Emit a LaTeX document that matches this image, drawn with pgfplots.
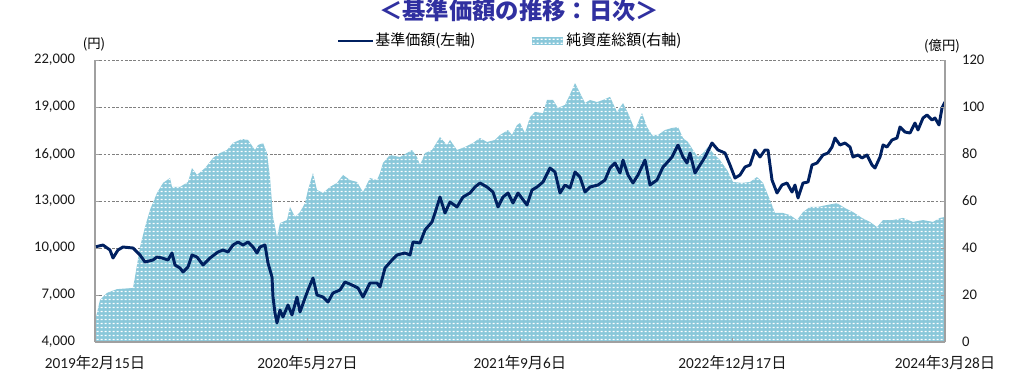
\documentclass[border=0pt]{standalone}
\usepackage{fontspec}
\usepackage{pgfplots}
\pgfplotsset{compat=1.18}
\usetikzlibrary{patterns.meta}
\setmainfont{Carlito}
\newfontfamily\cjk{Noto Sans CJK JP}
\definecolor{aqua}{RGB}{138,200,218}
\definecolor{navy}{RGB}{0,32,96}
\definecolor{ttl}{RGB}{48,48,160}
\definecolor{frame}{RGB}{160,160,160}
\tikzdeclarepattern{
  name=wdots,
  type=uncolored,
  bounding box={(0,0) and (3pt,3pt)},
  tile size={(3pt,3pt)},
  code={\fill (0.5pt,0.9pt) rectangle (2.5pt,2.1pt);}
}
\pgfplotsset{
  base/.style={
    at={(0,0)}, anchor=south west, scale only axis,
    width=637.5pt, height=211.5pt,
    xmin=0, xmax=850,
    tick align=inside, major tick length=3pt,
    tick style={frame, line width=0.6pt},
    axis line style={frame, line width=0.8pt},
    ticklabel style={font=\fontsize{11}{13}\selectfont, text=black!90},
    /pgf/number format/assume math mode=true,
    scaled y ticks=false,
  }
}
\begin{document}
\begin{tikzpicture}
\path[use as bounding box] (-71.25pt,-25.5pt) rectangle (696.75pt,256.5pt);
% --- area (right axis values) with grid
\begin{axis}[base,
  ymin=0, ymax=120, ytick={0,20,...,120},
  xtick=\empty, yticklabels={},
  axis line style={draw=none}, tick style={draw=none},
  ymajorgrids, grid style={black!50, line width=0.5pt, dash pattern=on 2pt off 1.2pt},
]
\addplot[draw=none, fill=aqua, postaction={pattern=wdots, pattern color=white}] coordinates {
(0,5) (1,10.6) (5,17.9) (12,20.9) (22,22.5) (38,23.0) (40,27.7) (45,40.4) (50,48.9) (55,56.2)
(62,63.4) (68,67.7) (75,69.8) (77,66.0) (85,66.0) (93,68.1) (97,74.0) (102,71.1) (110,74.0)
(118,78.3) (125,80.4) (132,81.7) (138,84.7) (147,86.4) (153,86.0) (160,81.7) (163,83.8)
(168,84.7) (172,80.4) (175,70.2) (178,53.2) (182,44.7) (185,50.6) (192,51.9) (195,57.5)
(200,53.2) (205,55.3) (210,59.1) (213,64.7) (218,71.9) (222,64.7) (228,63.4) (235,66.0)
(242,67.7) (248,71.1) (255,68.9) (262,68.1) (268,63.8) (275,69.8) (282,68.9) (285,71.9)
(288,76.2) (295,79.6) (305,78.7) (317,81.7) (322,78.7) (325,75.3) (330,80.4) (337,81.7)
(345,87.2) (352,83.8) (355,86.0) (362,81.7) (370,83.0) (378,84.7) (385,86.8) (392,85.1)
(400,86.0) (405,88.1) (413,90.2) (417,88.1) (422,92.3) (425,93.2) (430,88.9) (435,95.7)
(440,97.9) (448,97.4) (452,103.0) (458,103.0) (463,99.6) (470,100.9) (477,107.2) (480,110.2)
(485,106.0) (490,101.7) (495,103.0) (502,102.1) (508,103.0) (515,104.3) (522,97.9) (528,101.7)
(533,97.4) (540,90.2) (547,97.4) (552,91.5) (557,88.1) (563,88.1) (570,90.2) (577,91.1)
(583,91.5) (588,86.8) (593,85.1) (598,81.7) (603,78.7) (608,80.4) (613,83.0) (618,80.4)
(625,77.4) (632,73.2) (638,68.1) (647,67.7) (655,68.1) (662,70.2) (668,67.7) (675,60.4)
(680,54.9) (688,54.9) (695,54.0) (702,51.9) (708,55.3) (715,57.5) (723,57.5) (732,58.3)
(742,59.1) (750,57.0) (758,55.3) (767,52.8) (775,51.1) (782,48.9) (788,51.9) (798,51.9)
(808,52.8) (818,51.1) (828,51.9) (838,51.1) (845,52.8) (850,53.2)
} \closedcycle;
\end{axis}
% --- NAV (left axis)
\begin{axis}[base,
  ymin=4000, ymax=22000, ytick={4000,7000,...,22000},
  axis x line*=bottom, axis y line*=left,
  xtick={0,212.5,425,637.5,850},
  xticklabels={
    {2019{\cjk 年}2{\cjk 月}15{\cjk 日}},
    {2020{\cjk 年}5{\cjk 月}27{\cjk 日}},
    {2021{\cjk 年}9{\cjk 月}6{\cjk 日}},
    {2022{\cjk 年}12{\cjk 月}17{\cjk 日}},
    {2024{\cjk 年}3{\cjk 月}28{\cjk 日}}},
  xticklabel style={yshift=-6.5pt, font=\fontsize{11.5}{13}\selectfont},
  yticklabel style={xshift=-11.5pt},
  /pgf/number format/1000 sep={,},
]
\addplot[navy, line width=2.2pt, line join=round] coordinates {
(1,10083) (8,10190) (15,9872) (18,9362) (23,9872) (28,10064) (38,10000) (45,9553) (50,9107)
(58,9234) (62,9425) (67,9362) (73,9234) (77,9681) (80,8915) (85,8723) (88,8468) (93,8787)
(97,9553) (102,9425) (108,8915) (115,9362) (123,9745) (128,9872) (133,9745) (138,10190)
(143,10383) (148,10190) (153,10383) (158,10064) (162,9681) (165,10064) (170,10190) (173,9043)
(177,8149) (178,6872) (180,5851) (182,5213) (185,6043) (188,5596) (193,6362) (197,5723)
(202,6872) (205,5915) (210,6808) (213,7319) (218,8085) (222,7000) (228,6872) (233,6553)
(238,7128) (245,7319) (250,7830) (257,7638) (263,7447) (268,6872) (275,7766) (282,7766)
(285,7511) (290,8723) (297,9234) (302,9553) (310,9681) (315,9553) (318,10383) (325,10319)
(330,11149) (337,11660) (340,12234) (345,13255) (350,12234) (355,12936) (362,12617) (368,13255)
(375,13511) (380,13894) (385,14149) (392,13894) (398,13574) (403,12617) (408,13255) (413,13511)
(418,12872) (423,13511) (432,12745) (437,13702) (442,13894) (448,14213) (455,15106) (460,14851)
(465,13511) (470,14021) (475,13830) (480,14851) (485,14532) (490,13574) (495,13894) (503,14021)
(510,14340) (515,15106) (520,15425) (525,14787) (528,15617) (533,14660) (538,14149) (543,14660)
(550,15617) (555,14021) (562,14340) (568,15170) (570,15298) (577,15808) (583,16574) (588,15808)
(592,15425) (595,16064) (600,14787) (605,15298) (610,15808) (617,16702) (623,16255) (630,16064)
(635,15298) (640,14468) (645,14660) (650,15170) (655,15298) (660,16255) (665,15808) (670,16255)
(673,16255) (677,14340) (682,13511) (687,14021) (692,14149) (697,13574) (700,14021) (703,13191)
(708,14149) (713,14213) (717,15298) (722,15425) (728,15936) (733,16064) (737,16447) (740,17021)
(745,16574) (750,16702) (755,16447) (758,15808) (763,15936) (767,15745) (772,15936) (777,15298)
(780,15106) (785,15808) (788,16574) (792,16447) (797,16894) (802,17021) (805,17723) (810,17404)
(815,17340) (820,17979) (823,17532) (828,18298) (832,18489) (837,18170) (840,18298) (844,17851)
(847,18936) (850,19319)
};
\end{axis}
% --- right axis
\begin{axis}[base,
  ymin=0, ymax=120, ytick={0,20,...,120},
  axis x line=none, axis y line*=right,
  yticklabel style={xshift=9.25pt},
]
\end{axis}
% --- title, legend, units
\node[font={\cjk\bfseries\fontsize{17.5}{20}\selectfont}, text=ttl] at (318pt,248.25pt) {＜基準価額の推移：日次＞};
\draw[navy, line width=2.2pt] (182.25pt,225.75pt) -- (208.5pt,225.75pt);
\node[anchor=west, inner sep=0pt, font={\cjk\fontsize{11.25}{13}\selectfont}] at (210pt,225.75pt) {基準価額(左軸)};
\fill[aqua, postaction={pattern=wdots, pattern color=white}] (327.75pt,222.75pt) rectangle (351pt,228.75pt);
\node[anchor=west, inner sep=0pt, font={\cjk\fontsize{11.25}{13}\selectfont}] at (353.25pt,225.75pt) {純資産総額(右軸)};
\node[font={\cjk\fontsize{10}{12}\selectfont}] at (-0.75pt,223.5pt) {(円)};
\node[font={\cjk\fontsize{10}{12}\selectfont}] at (635.25pt,222pt) {(億円)};
\end{tikzpicture}
\end{document}
